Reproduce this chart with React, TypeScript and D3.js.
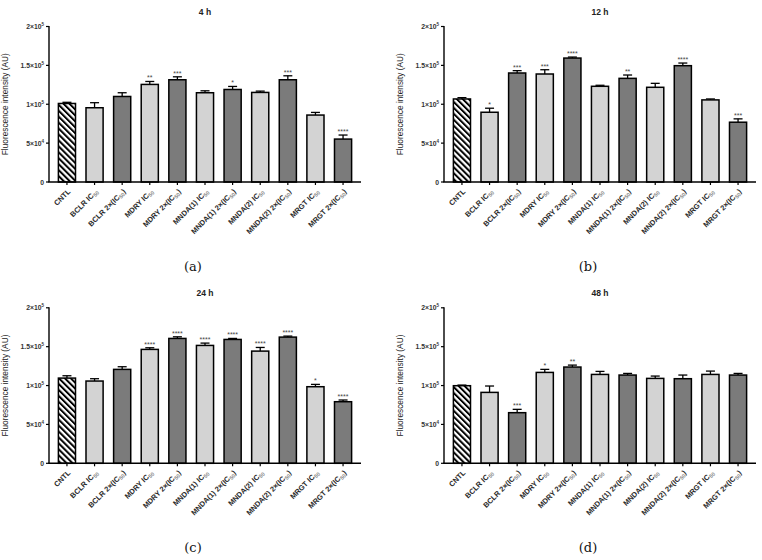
import * as d3 from "d3";

// Categories shared by all four panels
const categories = [
  "CNTL",
  "BCLR IC50",
  "BCLR 2×(IC50)",
  "MDRY IC50",
  "MDRY 2×(IC50)",
  "MNDA(1) IC50",
  "MNDA(1) 2×(IC50)",
  "MNDA(2) IC50",
  "MNDA(2) 2×(IC50)",
  "MRGT IC50",
  "MRGT 2×(IC50)",
];
const barKinds = ["hatch", "light", "dark", "light", "dark", "light", "dark", "light", "dark", "light", "dark"];

const means4h = [101000, 95500, 110000, 125500, 131500, 114800, 119000, 115200, 131500, 86100, 55200];
const err4h = [1500, 6500, 4800, 3800, 3800, 2500, 3900, 1700, 5100, 3400, 5200];
const stars4h = ["", "", "", "**", "***", "", "*", "", "***", "", "****"];

const means12h = [106800, 89700, 140200, 138900, 159400, 123100, 133300, 121800, 149600, 105600, 76900];
const err12h = [1700, 5200, 3000, 5500, 1300, 1300, 4300, 5100, 3400, 1200, 4300];
const stars12h = ["", "*", "***", "***", "****", "", "**", "", "****", "", "***"];

const means24h = [109600, 105800, 120800, 146500, 160600, 151600, 159300, 144300, 162300, 98500, 79200];
const err24h = [3000, 3000, 3400, 2100, 2100, 3000, 1300, 4700, 1300, 3000, 2200];
const stars24h = ["", "", "", "****", "****", "****", "****", "****", "****", "*", "****"];

const means48h = [99800, 91200, 65100, 116900, 123800, 114300, 113500, 109200, 108800, 114300, 113500];
const err48h = [800, 8200, 4300, 3900, 2500, 3900, 2100, 3000, 4700, 4300, 2100];
const stars48h = ["", "", "***", "*", "**", "", "", "", "", "", ""];

// y tick values with their label parts: mantissa, exponent
const yTicks = [0, 50000, 100000, 150000, 200000];
const yTickLabels: [string, string][] = [
  ["0", ""],
  ["5×10", "4"],
  ["1×10", "5"],
  ["1.5×10", "5"],
  ["2×10", "5"],
];

const SANS = "'Liberation Sans', Arial, sans-serif";
const LIGHT = "#d3d3d3";
const DARK = "#7b7b7b";

function CategoryLabel({ text }: { text: string }) {
  const i = text.indexOf("50");
  if (i < 0) return <>{text}</>;
  return (
    <>
      {text.slice(0, i)}
      <tspan fontSize={5.4} fill="#8a8a8a" dy={1.5}>50</tspan>
      <tspan dy={-1.5}>{text.slice(i + 2)}</tspan>
    </>
  );
}

function Panel({
  x0,
  yTop,
  title,
  letter,
  means,
  errs,
  stars,
}: {
  x0: number;
  yTop: number;
  title: string;
  letter: string;
  means: number[];
  errs: number[];
  stars: string[];
}) {
  const x1 = x0 + 312;
  const y0 = yTop + 155.5;
  const x = d3.scaleBand<string>().domain(categories).range([x0, x1]).paddingInner(0.38).paddingOuter(0.34);
  const y = d3.scaleLinear().domain([0, 200000]).range([y0, yTop]);
  const bw = x.bandwidth();

  return (
    <g>
      <text x={(x0 + x1) / 2} y={yTop - 12} textAnchor="middle" fontFamily={SANS} fontWeight="bold" fontSize={8.5} fill="#222">
        {title}
      </text>

      {/* y axis */}
      <line x1={x0} x2={x0} y1={yTop - 0.5} y2={y0} stroke="#000" strokeWidth={1.4} />
      {yTicks.map((t, i) => (
        <g key={t}>
          <line x1={x0 - 3} x2={x0} y1={y(t)} y2={y(t)} stroke="#000" strokeWidth={1.2} />
          <text x={x0 - 5} y={y(t) + 2.5} textAnchor="end" fontFamily={SANS} fontWeight="bold" fontSize={6.8} fill="#333">
            {yTickLabels[i][0]}
            {yTickLabels[i][1] && (
              <tspan fontSize={4.5} dy={-3}>{yTickLabels[i][1]}</tspan>
            )}
          </text>
        </g>
      ))}
      <text
        transform={`translate(${x0 - 41},${(yTop + y0) / 2}) rotate(-90)`}
        textAnchor="middle"
        fontFamily={SANS}
        fontSize={8.3}
        fill="#222"
      >
        Fluorescence intensity (AU)
      </text>

      {/* bars */}
      {categories.map((c, i) => {
        const bx = x(c)!;
        const cx = bx + bw / 2;
        const top = y(means[i]);
        const et = y(means[i] + errs[i]);
        const fill = barKinds[i] === "hatch" ? "url(#hatch)" : barKinds[i] === "light" ? LIGHT : DARK;
        return (
          <g key={c}>
            <line x1={cx} x2={cx} y1={top} y2={et} stroke="#000" strokeWidth={1.3} />
            <line x1={cx - 4.5} x2={cx + 4.5} y1={et} y2={et} stroke="#000" strokeWidth={1.3} />
            <rect x={bx} y={top} width={bw} height={y0 - top} fill={fill} stroke="#000" strokeWidth={1.5} />
            {stars[i] && (
              <text x={cx} y={et - 1} textAnchor="middle" fontFamily={SANS} fontSize={7} fill="#444">
                {stars[i]}
              </text>
            )}
          </g>
        );
      })}

      {/* x axis */}
      <line x1={x0 - 0.7} x2={x1} y1={y0} y2={y0} stroke="#000" strokeWidth={1.4} />
      {categories.map((c) => {
        const cx = x(c)! + bw / 2;
        return (
          <g key={c}>
            <line x1={cx} x2={cx} y1={y0} y2={y0 + 3} stroke="#000" strokeWidth={1.2} />
            <text
              transform={`translate(${cx + 4},${y0 + 10}) rotate(-45)`}
              textAnchor="end"
              fontFamily={SANS}
              fontWeight="bold"
              fontSize={7.4}
              fill="#2a2a2a"
            >
              <CategoryLabel text={c} />
            </text>
          </g>
        );
      })}

      <text x={(x0 + x1) / 2 - 12} y={y0 + 89} textAnchor="middle" fontFamily="'DejaVu Serif', 'Liberation Serif', serif" fontSize={13} fill="#111">
        {letter}
      </text>
    </g>
  );
}

export default function App() {
  return (
    <svg width={762} height={560} style={{ position: "absolute", left: 0, top: 0, background: "#fff" }}>
      <defs>
        <pattern id="hatch" patternUnits="userSpaceOnUse" width={4.2} height={4.2} patternTransform="rotate(-45)">
          <rect width={4.2} height={4.2} fill="#fff" />
          <line x1={1} y1={0} x2={1} y2={4.2} stroke="#000" strokeWidth={2} />
        </pattern>
      </defs>
      <rect width={762} height={560} fill="#fff" />
      <Panel x0={49} yTop={26.5} title="4 h" letter="(a)" means={means4h} errs={err4h} stars={stars4h} />
      <Panel x0={444} yTop={26.5} title="12 h" letter="(b)" means={means12h} errs={err12h} stars={stars12h} />
      <Panel x0={49} yTop={307.8} title="24 h" letter="(c)" means={means24h} errs={err24h} stars={stars24h} />
      <Panel x0={444} yTop={307.8} title="48 h" letter="(d)" means={means48h} errs={err48h} stars={stars48h} />
    </svg>
  );
}
